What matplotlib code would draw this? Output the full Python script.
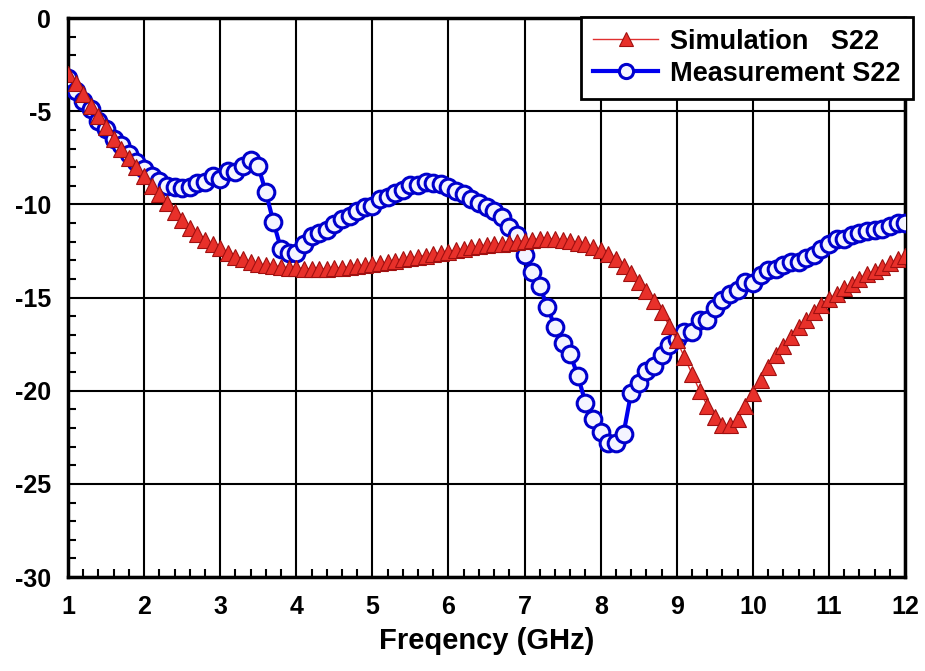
import numpy as np
import matplotlib
matplotlib.use("Agg")
import matplotlib.pyplot as plt
from matplotlib.ticker import MultipleLocator

plt.rcParams['font.family'] = ['Liberation Sans', 'DejaVu Sans']
plt.rcParams['font.weight'] = 'bold'
plt.rcParams['axes.unicode_minus'] = False

# frecuencias de barrido (GHz), paso de 0.1
freq = np.round(np.arange(1.0, 12.05, 0.1), 1)

sim_s22 = [
    -3.0, -3.5, -4.05, -4.7, -5.25, -5.85, -6.5, -7.0, -7.5, -8.0,
    -8.5, -9.0, -9.45, -9.9, -10.4, -10.85, -11.25, -11.6, -11.9, -12.15,
    -12.35, -12.6, -12.8, -12.95, -13.1, -13.2, -13.25, -13.3, -13.35, -13.4,
    -13.4, -13.45, -13.45, -13.45, -13.45, -13.4, -13.4, -13.35, -13.3, -13.25,
    -13.2, -13.15, -13.1, -13.05, -12.95, -12.9, -12.8, -12.75, -12.65, -12.6,
    -12.55, -12.45, -12.4, -12.3, -12.25, -12.2, -12.15, -12.1, -12.05, -12.0,
    -11.95, -11.9, -11.85, -11.85, -11.85, -11.9, -11.95, -12.05, -12.15, -12.3,
    -12.45, -12.65, -12.95, -13.3, -13.7, -14.15, -14.65, -15.2, -15.8, -16.5,
    -17.3, -18.2, -19.1, -20.0, -20.8, -21.4, -21.85, -21.85, -21.5, -20.8,
    -20.1, -19.4, -18.7, -18.1, -17.6, -17.1, -16.6, -16.2, -15.8, -15.4,
    -15.1, -14.8, -14.5, -14.25, -14.0, -13.75, -13.55, -13.35, -13.15, -12.95,
    -12.75,
]

meas_s22 = [
    -3.2, -3.9, -4.45, -4.9, -5.5, -5.95, -6.5, -6.8, -7.3, -7.7,
    -8.1, -8.5, -8.75, -9.0, -9.05, -9.1, -9.05, -8.85, -8.8, -8.45,
    -8.65, -8.2, -8.25, -7.95, -7.6, -7.95, -9.35, -10.95, -12.4, -12.6,
    -12.6, -12.1, -11.7, -11.55, -11.35, -11.05, -10.8, -10.6, -10.35, -10.15,
    -10.1, -9.7, -9.6, -9.4, -9.2, -8.95, -8.95, -8.8, -8.85, -8.9,
    -9.05, -9.3, -9.45, -9.7, -9.95, -10.15, -10.35, -10.7, -11.2, -11.65,
    -12.7, -13.6, -14.4, -15.5, -16.6, -17.45, -18.05, -19.2, -20.65, -21.5,
    -22.2, -22.8, -22.8, -22.3, -20.1, -19.6, -18.95, -18.65, -18.1, -17.55,
    -17.2, -16.85, -16.85, -16.2, -16.2, -15.55, -15.15, -14.8, -14.6, -14.15,
    -14.2, -13.8, -13.5, -13.45, -13.25, -13.1, -13.1, -12.9, -12.7, -12.4,
    -12.1, -11.85, -11.85, -11.65, -11.55, -11.4, -11.35, -11.3, -11.15, -11.0,
    -11.0,
]

fig = plt.figure(figsize=(9.25, 6.71), dpi=100)
ax = fig.add_axes([0.0735, 0.14, 0.905, 0.833])

ax.plot(freq, meas_s22, color='#0000ee', lw=3, marker='o', ms=12,
        mfc='#f4f4ff', mec='#0000cc', mew=2.2, label='Measurement S22', zorder=3)
ax.plot(freq, sim_s22, color='#e03030', lw=1, marker='^', ms=12,
        mfc='#e8302a', mec='#a01010', mew=0.8, label='Simulation   S22', zorder=4)

ax.set_xlim(1, 12)
ax.set_ylim(-30, 0)
ax.xaxis.set_major_locator(MultipleLocator(1))
ax.xaxis.set_minor_locator(MultipleLocator(0.2))
ax.yaxis.set_major_locator(MultipleLocator(5))
ax.yaxis.set_minor_locator(MultipleLocator(1))
ax.grid(True, which='major', color='black', lw=1.5)
ax.tick_params(which='both', direction='in', labelsize=18, width=1.5)
ax.tick_params(which='major', length=0)
ax.tick_params(axis='y', which='major', pad=12)
ax.tick_params(axis='x', which='major', pad=13)
ax.tick_params(which='minor', length=6)
for s in ax.spines.values():
    s.set_linewidth(2.5)
for lbl in ax.get_xticklabels() + ax.get_yticklabels():
    lbl.set_fontweight('bold')

ax.set_xlabel('Freqency (GHz)', fontsize=21, fontweight='bold', labelpad=6)

handles, labels = ax.get_legend_handles_labels()
leg = ax.legend(handles[::-1], labels[::-1], loc='upper right',
                bbox_to_anchor=(0.987, 0.975), bbox_transform=fig.transFigure,
                fancybox=False, framealpha=1, edgecolor='black',
                prop={'size': 19.5, 'weight': 'bold'}, borderpad=0.45,
                handlelength=2.4, handletextpad=0.45, labelspacing=0.22,
                borderaxespad=0, markerscale=0.85)
leg.get_frame().set_linewidth(2)

fig.savefig('out.png', dpi=100)
